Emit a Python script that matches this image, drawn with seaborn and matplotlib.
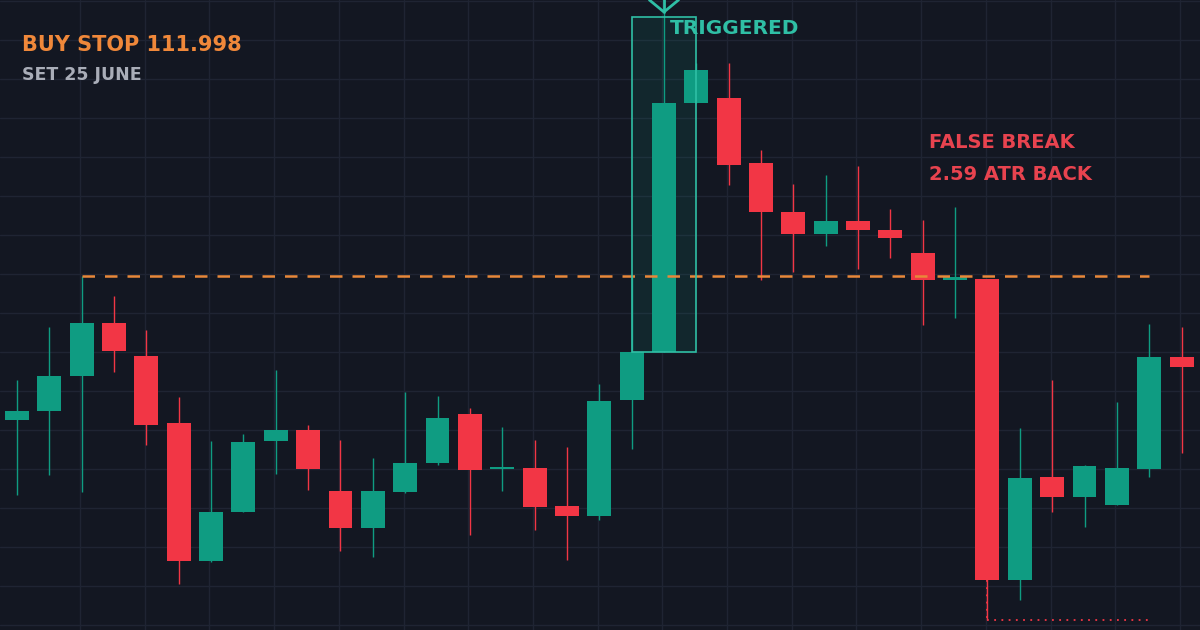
import numpy as np
import pandas as pd
import seaborn as sns
import matplotlib
matplotlib.use("Agg")
import matplotlib.pyplot as plt
from matplotlib.patches import Rectangle

opens  = [111.710,111.728,111.798,111.904,111.838,111.704,111.428,111.526,111.668,111.690,111.568,111.494,111.566,111.624,111.722,111.612,111.614,111.538,111.518,111.750,111.846,112.344,112.354,112.224,112.126,112.082,112.108,112.090,112.044,111.990,111.992,111.390,111.596,111.556,111.540,111.612,111.836]
closes = [111.728,111.798,111.904,111.848,111.700,111.428,111.526,111.666,111.690,111.612,111.494,111.568,111.624,111.714,111.610,111.614,111.536,111.518,111.748,111.846,112.344,112.410,112.220,112.126,112.082,112.108,112.090,112.074,111.990,111.996,111.390,111.594,111.556,111.618,111.614,111.836,111.816]
highs  = [111.790,111.896,111.998,111.958,111.890,111.756,111.668,111.682,111.810,111.700,111.670,111.634,111.766,111.758,111.734,111.696,111.670,111.656,111.782,111.998,112.530,112.424,112.424,112.250,112.182,112.200,112.218,112.132,112.110,112.136,111.992,111.694,111.790,111.620,111.746,111.902,111.896]
lows   = [111.560,111.600,111.566,111.806,111.660,111.382,111.426,111.526,111.602,111.570,111.448,111.436,111.564,111.620,111.480,111.568,111.490,111.430,111.510,111.652,111.846,112.344,112.180,111.990,112.006,112.058,112.012,112.034,111.900,111.914,111.310,111.350,111.526,111.496,111.540,111.596,111.644]
buy_stop = 111.998
trigger_idx = 20
break_idx = 30

BG = "#131722"
GREEN = "#0f9c82"
RED = "#f23645"

sns.set_theme(style="dark", rc={"axes.facecolor": BG, "figure.facecolor": BG})
plt.rcParams['font.family'] = ['DejaVu Sans']

fig = plt.figure(figsize=(12, 6.3), dpi=100)
ax = fig.add_axes([0, 0, 1, 1])
ax.set_facecolor(BG)

n = len(opens)
x = np.arange(n)
df = pd.DataFrame({"x": x, "open": opens, "close": closes, "high": highs, "low": lows})
df["color"] = np.where(df.close >= df.open, GREEN, RED)

ax.set_xlim(-0.525, 36.57)
ax.set_ylim(111.29, 112.55)

# grid
for gx in np.arange(1.95, 37, 2.0):
    ax.axvline(gx, color="#1f2433", lw=1, zorder=0)
for gy in np.arange(111.30, 112.56, 0.078):
    ax.axhline(gy, color="#1f2433", lw=1, zorder=0)

ax.vlines(df.x, df.low, df.high, colors=df.color, lw=1, zorder=2)
bottoms = np.minimum(df.open, df.close)
heights = np.maximum(np.abs(df.close - df.open), 0.003)
ax.bar(df.x, heights, bottom=bottoms, width=0.74, color=df.color, zorder=3, linewidth=0)

# buy stop line
ax.hlines(buy_stop, 2, 35, colors="#e8883a", linestyles=(0, (5, 4)), lw=1.8, zorder=4)

# trigger box
ax.add_patch(Rectangle((trigger_idx - 1, closes[trigger_idx - 1]), 2.0, 112.516 - closes[trigger_idx - 1],
                       facecolor=GREEN, alpha=0.12, edgecolor="none", zorder=1))
ax.add_patch(Rectangle((trigger_idx - 1, closes[trigger_idx - 1]), 2.0, 112.516 - closes[trigger_idx - 1],
                       facecolor="none", edgecolor="#2fbfa5", lw=1.2, zorder=5))
ax.plot([trigger_idx - 0.45, trigger_idx, trigger_idx + 0.45], [112.550, 112.526, 112.550],
        color="#2fbfa5", lw=2, zorder=6, clip_on=False)
ax.plot([trigger_idx, trigger_idx], [112.526, 112.56], color="#2fbfa5", lw=2, zorder=6)

# false break dotted
ax.hlines(lows[break_idx], break_idx, 35, colors=RED, linestyles=(0, (1, 3)), lw=1.3, zorder=4)
ax.vlines(break_idx, closes[break_idx], lows[break_idx], colors=RED, linestyles=(0, (1, 3)), lw=1.3, zorder=4)

ax.set_xticks([]); ax.set_yticks([])
for s in ax.spines.values():
    s.set_visible(False)

fig.text(22/1200, 1 - 45/630, "BUY STOP 111.998", color="#f0883a", fontsize=15, fontweight="bold", va="center")
fig.text(22/1200, 1 - 75/630, "SET 25 JUNE", color="#a9adb8", fontsize=12.5, fontweight="bold", va="center")
fig.text(670/1200, 1 - 28/630, "TRIGGERED", color="#2fbfa5", fontsize=14.5, fontweight="bold", va="center")
fig.text(929/1200, 1 - 143/630, "FALSE BREAK", color="#e8434f", fontsize=14, fontweight="bold", va="center")
fig.text(929/1200, 1 - 175/630, "2.59 ATR BACK", color="#e8434f", fontsize=14, fontweight="bold", va="center")

fig.savefig("out.png", dpi=100, facecolor=BG)
